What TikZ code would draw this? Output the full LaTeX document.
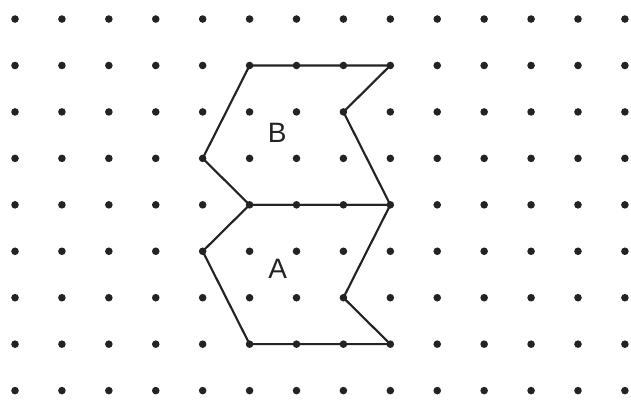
\documentclass[tikz,border=0pt]{standalone}
\usepackage{fontspec}
\setsansfont{Liberation Sans}
\usetikzlibrary{positioning}
\definecolor{ink}{RGB}{35, 35, 35}

\begin{document}
\begin{tikzpicture}[x=1cm, y=0.99cm]
            \useasboundingbox (-0.32,-8.19) rectangle (13.13,0.41);
            \foreach \c in {0,...,13}
              \foreach \r in {0,...,8}
                \coordinate (g\c-\r) at (\c,-\r);
            \foreach \c in {0,...,13}
              \foreach \r in {0,...,8}
                \fill[ink] (g\c-\r) circle (2.3pt);
            \draw[ink, line width=1.3pt] (g5-1) -- (g8-1) -- (g7-2) -- (g8-4) -- (g5-4) -- (g4-3) -- cycle;
            \draw[ink, line width=1.3pt] (g5-4) -- (g8-4) -- (g7-6) -- (g8-7) -- (g5-7) -- (g4-5) -- cycle;
            \node[font=\sffamily\fontsize{17}{20}\selectfont, text=ink] (labelB) at (5.59,-2.44) {B};
            \node[font=\sffamily\fontsize{17}{20}\selectfont, text=ink] (labelA) at (5.6,-5.37) {A};
          \end{tikzpicture}
\end{document}
